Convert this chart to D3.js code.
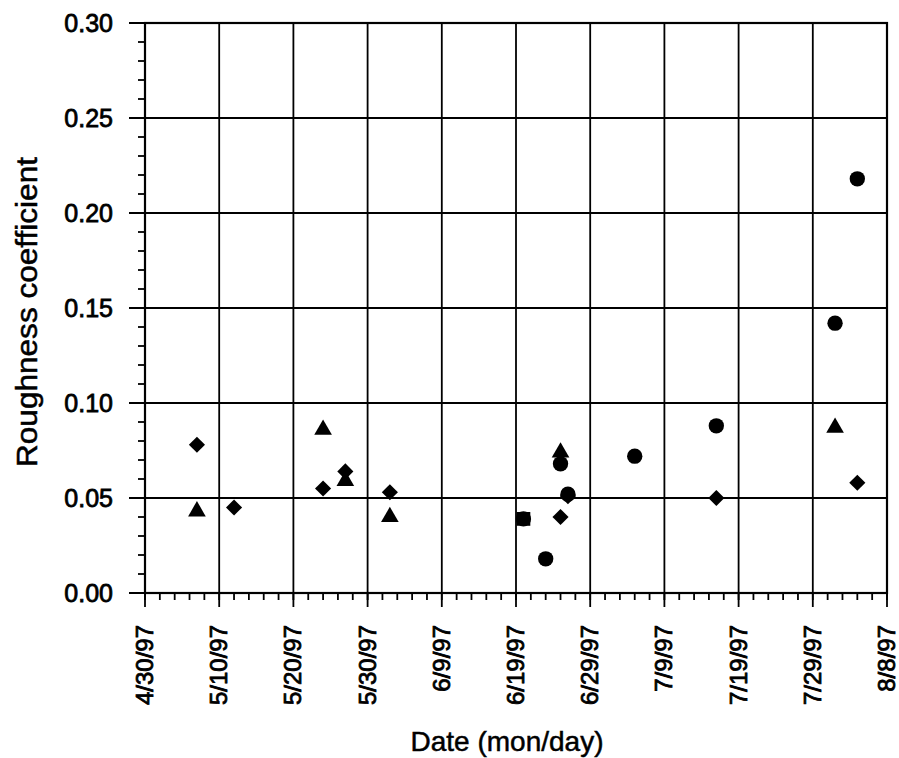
<!DOCTYPE html>
<html>
<head>
<meta charset="utf-8">
<script src="https://cdn.jsdelivr.net/npm/d3@7"></script>
<style>
  body { margin: 0; background: #fff; }
  text { font-family: "Liberation Sans", Arial, sans-serif; fill: #000; }
</style>
</head>
<body>
<svg id="chart" width="899" height="758"></svg>
<script>
// tick labels
var xTickLabels = ["4/30/97","5/10/97","5/20/97","5/30/97","6/9/97","6/19/97","6/29/97","7/9/97","7/19/97","7/29/97","8/8/97"];
var yTickValues = [0, 0.05, 0.10, 0.15, 0.20, 0.25, 0.30];

// series
var diamondDates = ["5/7/97","5/12/97","5/24/97","5/27/97","6/2/97","6/25/97","6/26/97","7/16/97","8/4/97"];
var diamondVals  = [0.078, 0.045, 0.055, 0.064, 0.053, 0.040, 0.051, 0.050, 0.058];

var triangleDates = ["5/7/97","5/24/97","5/27/97","6/2/97","6/25/97","8/1/97"];
var triangleVals  = [0.043, 0.086, 0.059, 0.040, 0.074, 0.087];

var circleDates = ["6/20/97","6/23/97","6/25/97","6/26/97","7/5/97","7/16/97","8/1/97","8/4/97"];
var circleVals  = [0.039, 0.018, 0.068, 0.052, 0.072, 0.088, 0.142, 0.218];

var squareDates = ["6/20/97"];
var squareVals  = [0.039];

var parse = d3.timeParse("%m/%d/%y");
var fmt = d3.timeFormat("%-m/%-d/%y");

var plotLeft = 145, plotRight = 887, plotTop = 23, plotBottom = 593;

var svg = d3.select("#chart");

var x = d3.scaleTime()
  .domain([parse(xTickLabels[0]), parse(xTickLabels[xTickLabels.length - 1])])
  .range([plotLeft, plotRight]);
var y = d3.scaleLinear().domain([0, 0.30]).range([plotBottom, plotTop]);

var xMajor = xTickLabels.map(parse);
var xMinor = d3.timeDay.range(x.domain()[0], d3.timeDay.offset(x.domain()[1], 1)).filter(function(d, i){ return i % 2 == 0; });
var yMinor = d3.range(0, 31).map(function(i){ return i / 100; });

// grid lines
var grid = svg.append("g").attr("stroke", "#000").attr("stroke-width", 1.8);
grid.selectAll(".vg").data(xMajor).enter().append("line")
  .attr("x1", function(d){ return x(d); }).attr("x2", function(d){ return x(d); })
  .attr("y1", plotTop).attr("y2", plotBottom + 14);
grid.selectAll(".hg").data(yTickValues).enter().append("line")
  .attr("y1", function(d){ return y(d); }).attr("y2", function(d){ return y(d); })
  .attr("x1", plotLeft - 16).attr("x2", plotRight);

// minor ticks
var ticks = svg.append("g").attr("stroke", "#000").attr("stroke-width", 1.8);
ticks.selectAll(".xm").data(xMinor).enter().append("line")
  .attr("x1", function(d){ return x(d); }).attr("x2", function(d){ return x(d); })
  .attr("y1", plotBottom).attr("y2", plotBottom + 7);
ticks.selectAll(".ym").data(yMinor).enter().append("line")
  .attr("y1", function(d){ return y(d); }).attr("y2", function(d){ return y(d); })
  .attr("x1", plotLeft - 7).attr("x2", plotLeft + 1);

// frame
svg.append("rect")
  .attr("x", plotLeft).attr("y", plotTop)
  .attr("width", plotRight - plotLeft).attr("height", plotBottom - plotTop)
  .attr("fill", "none").attr("stroke", "#000").attr("stroke-width", 2.2);

// axis labels
svg.append("g").selectAll("text").data(yTickValues).enter().append("text")
  .attr("x", 113).attr("y", function(d){ return y(d) + 9; })
  .attr("text-anchor", "end")
  .attr("font-size", 25)
  .attr("stroke", "#000").attr("stroke-width", 0.8)
  .text(function(d){ return d3.format(".2f")(d); });

svg.append("g").selectAll("text").data(xMajor).enter().append("text")
  .attr("transform", function(d){ return "translate(" + (x(d) + 8) + "," + 625 + ") rotate(-90)"; })
  .attr("text-anchor", "end")
  .attr("font-size", 24)
  .attr("stroke", "#000").attr("stroke-width", 0.8)
  .text(function(d){ return fmt(d); });

svg.append("text")
  .attr("x", 507).attr("y", 751)
  .attr("text-anchor", "middle")
  .attr("font-size", 28)
  .attr("stroke", "#000").attr("stroke-width", 0.5)
  .text("Date (mon/day)");

svg.append("text")
  .attr("transform", "translate(37,312) rotate(-90)")
  .attr("text-anchor", "middle")
  .attr("font-size", 29)
  .attr("textLength", 310).attr("lengthAdjust", "spacingAndGlyphs")
  .attr("stroke", "#000").attr("stroke-width", 0.5)
  .text("Roughness coefficient");

// markers
function series(dates, vals, type, size, rot) {
  var sym = d3.symbol().type(type).size(size);
  svg.append("g").selectAll("path").data(dates).enter().append("path")
    .attr("transform", function(d, i){ return "translate(" + x(parse(d)) + "," + y(vals[i]) + ") rotate(" + (rot || 0) + ")"; })
    .attr("d", sym)
    .attr("fill", "#000");
}
series(diamondDates, diamondVals, d3.symbolSquare, 130, 45);
series(triangleDates, triangleVals, d3.symbolTriangle, 135);
series(squareDates, squareVals, d3.symbolSquare, 190);
series(circleDates, circleVals, d3.symbolCircle, 185);
</script>
</body>
</html>
